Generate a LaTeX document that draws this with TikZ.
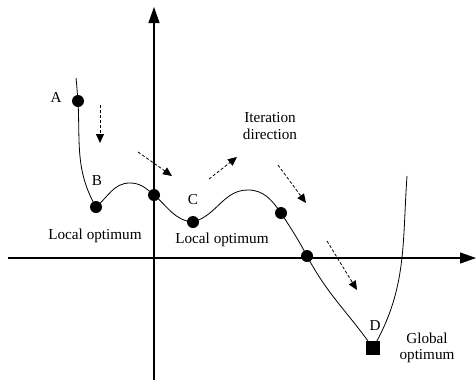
\documentclass[tikz,border=0pt]{standalone}
\usepackage{fontspec}
\setmainfont{Liberation Serif}
\usetikzlibrary{arrows.meta}

\tikzset{
    dot/.style={circle,fill=black,inner sep=0pt,minimum size=12pt},
    sq/.style={rectangle,fill=black,inner sep=0pt,minimum size=14pt},
    axis/.style={line width=1.1pt,-{Triangle[length=16pt,width=11pt]}},
    iter/.style={line width=0.8pt,dash pattern=on 3pt off 2pt,-{Triangle[length=9pt,width=8pt]}},
    lbl/.style={font=\fontsize{15.2}{16.5}\selectfont,align=center,inner sep=0pt}
}

\begin{document}
\begin{tikzpicture}[x=1pt,y=-1pt]
        \useasboundingbox (0,0) rectangle (476,380);

        \coordinate (xl) at (8,258);
        \coordinate (xr) at (476,258);
        \coordinate (yb) at (154,380);
        \coordinate (yt) at (154,7);
        \draw[axis] (xl) -- (xr);
        \draw[axis] (yb) -- (yt);

        \coordinate (top1) at (76,78);
        \coordinate (A) at (78,101);
        \coordinate (B) at (96,207);
        \coordinate (m1) at (130,183);
        \coordinate (P) at (154,195);
        \coordinate (C) at (193,222);
        \coordinate (m2) at (248,190);
        \coordinate (Q) at (281,213);
        \coordinate (R) at (307,256);
        \coordinate (D) at (373,348);
        \coordinate (top2) at (407,176);

        \draw[line width=0.8pt] (top1) to[out=-84,in=95] (A)
            to[out=-87,in=120] (B)
            to[out=40,in=180] (m1)
            to[out=0,in=140] (P)
            to[out=-40,in=175] (C)
            to[out=15,in=180] (m2)
            to[out=0,in=125] (Q)
            to[out=-57,in=118] (R)
            to[out=-62,in=125] (D)
            to[out=60,in=-94] (top2);

        \foreach \p in {A,B,P,C,Q,R} {
            \node[dot] at (\p) {};
        }
        \node[sq] at (D) {};

        \node[lbl] (la) at (56,97) {A};
        \node[lbl] (lb) at (97,181) {B};
        \node[lbl] (lc) at (193,200) {C};
        \node[lbl] (ld) at (375,326) {D};
        \node[lbl] (lo1) at (95,236) {Local optimum};
        \node[lbl] (lo2) at (222,240) {Local optimum};
        \node[lbl] (it) at (270,126) {Iteration\\direction};
        \node[lbl] (go) at (427,348) {Global\\optimum};

        \foreach \i/\xa/\ya/\xb/\yb in {1/100/105/100/143,2/138/152/172/176,3/209/179/237/157,4/278/165/306/203,5/327/241/357/290} {
            \coordinate (s\i) at (\xa,\ya);
            \coordinate (e\i) at (\xb,\yb);
            \draw[iter] (s\i) -- (e\i);
        }
    \end{tikzpicture}
\end{document}
